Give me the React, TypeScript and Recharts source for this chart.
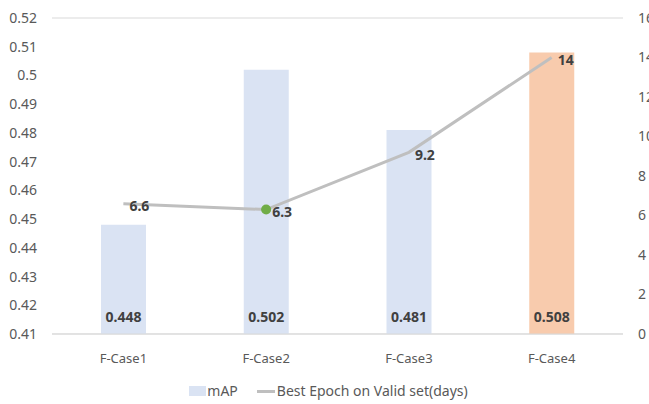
import {
  ComposedChart,
  Bar,
  Line,
  XAxis,
  YAxis,
  CartesianGrid,
  Legend,
  Cell,
  LabelList,
} from "recharts";

const categories = ["F-Case1", "F-Case2", "F-Case3", "F-Case4"];
const mapValues = [0.448, 0.502, 0.481, 0.508];
const epochValues = [6.6, 6.3, 9.2, 14];
const leftTicks = [0.41, 0.42, 0.43, 0.44, 0.45, 0.46, 0.47, 0.48, 0.49, 0.5, 0.51, 0.52];
const rightTicks = [0, 2, 4, 6, 8, 10, 12, 14, 16];

const data = categories.map((name, i) => ({
  name,
  mAP: mapValues[i],
  epoch: epochValues[i],
}));

const BAR_COLORS = ["#dae3f3", "#dae3f3", "#dae3f3", "#f8cbad"];
const FONT = "'Noto Sans', sans-serif";

const BarBottomLabel = (props: any) => {
  const { x, y, width, height, value } = props;
  return (
    <text
      x={x + width / 2}
      y={y + height - 18}
      textAnchor="middle"
      dominantBaseline="central"
      fontSize={14}
      fontWeight="bold"
      fill="#404040"
      fontFamily={FONT}
    >
      {value}
    </text>
  );
};

const LineLabel = (props: any) => {
  const { x, y, value } = props;
  return (
    <text
      x={x + 6}
      y={y + 2}
      dominantBaseline="central"
      fontSize={14}
      fontWeight="bold"
      fill="#404040"
      fontFamily={FONT}
    >
      {value}
    </text>
  );
};

const renderDot = (props: any) => {
  const { cx, cy, index } = props;
  if (index !== 1) return <g key={index} />;
  return <circle key={index} cx={cx} cy={cy} r={5} fill="#70ad47" stroke="none" />;
};

const LegendContent = () => (
  <div
    style={{
      display: "flex",
      justifyContent: "center",
      alignItems: "center",
      fontFamily: FONT,
      fontSize: 14,
      lineHeight: "18px",
      color: "#595959",
      paddingLeft: 8,
      paddingTop: 6,
    }}
  >
    <span style={{ display: "inline-block", width: 17, height: 10, background: "#dae3f3", marginRight: 1 }} />
    <span style={{ marginRight: 19 }}>mAP</span>
    <span style={{ display: "inline-block", width: 18, height: 3, background: "#bfbfbf", marginRight: 2 }} />
    <span>Best Epoch on Valid set(days)</span>
  </div>
);

export default function App() {
  return (
    <div style={{ position: "absolute", left: 0, top: 0, background: "#fff" }}>
      <ComposedChart
        width={649}
        height={404}
        data={data}
        margin={{ top: 18, right: 0, bottom: 0, left: 0 }}
      >
        <CartesianGrid vertical={false} stroke="#d9d9d9" />
        <XAxis
          dataKey="name"
          axisLine={{ stroke: "#d9d9d9" }}
          tickLine={false}
          tickMargin={14}
          height={42}
          tick={{ fontSize: 13, fill: "#595959", fontFamily: FONT }}
        />
        <YAxis
          yAxisId="left"
          domain={[0.41, 0.52]}
          ticks={leftTicks}
          width={52}
          axisLine={false}
          tickLine={false}
          tickSize={0}
          tickMargin={15}
          tick={{ fontSize: 14, fill: "#595959", fontFamily: FONT }}
          interval={0}
        />
        <YAxis
          yAxisId="right"
          orientation="right"
          domain={[0, 16]}
          ticks={rightTicks}
          width={26}
          axisLine={false}
          tickLine={false}
          tickSize={0}
          tickMargin={15}
          tick={{ fontSize: 14, fill: "#595959", fontFamily: FONT, textAnchor: "start" }}
          interval={0}
        />
        <Legend verticalAlign="bottom" height={28} content={<LegendContent />} />
        <Bar
          yAxisId="left"
          dataKey="mAP"
          barSize={45}
          isAnimationActive={false}
        >
          {data.map((_, i) => (
            <Cell key={i} fill={BAR_COLORS[i]} />
          ))}
          <LabelList dataKey="mAP" content={<BarBottomLabel />} />
        </Bar>
        <Line
          yAxisId="right"
          dataKey="epoch"
          type="linear"
          stroke="#bfbfbf"
          strokeWidth={3}
          dot={renderDot}
          activeDot={false}
          isAnimationActive={false}
        >
          <LabelList dataKey="epoch" content={<LineLabel />} />
        </Line>
      </ComposedChart>
    </div>
  );
}
